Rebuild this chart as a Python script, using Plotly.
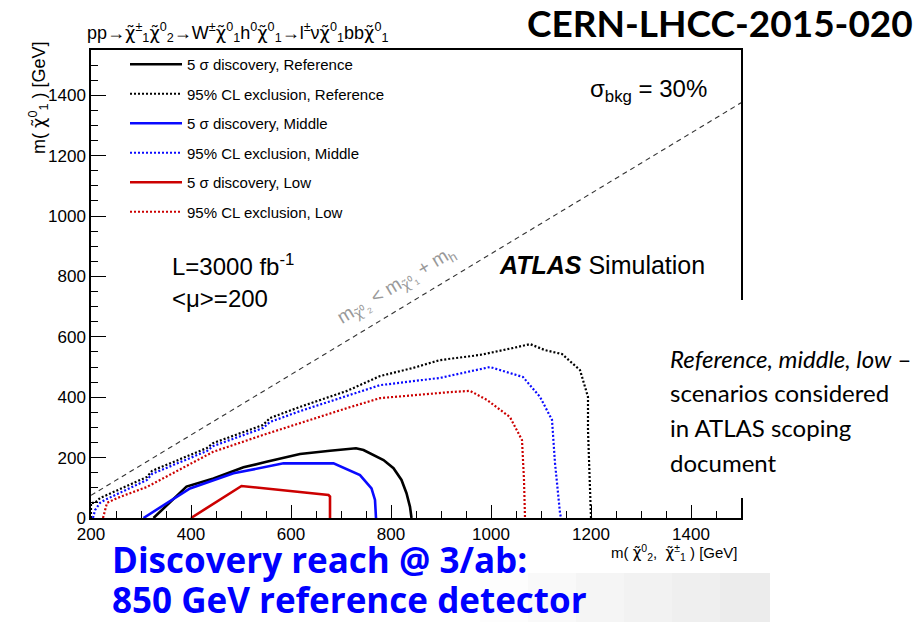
import plotly.graph_objects as go

# ---------------- data (GeV) ----------------
disc_ref_x = [325, 391, 445, 505, 551, 618, 678, 730, 745, 785, 805, 821, 831, 838, 841]
disc_ref_y = [0, 104, 131, 168, 186, 212, 223, 231, 225, 192, 165, 126, 82, 37, 0]

excl_ref_x = [200, 200, 208, 218, 312, 322, 432, 444, 544, 558, 618, 712, 778, 844, 898, 978,
              1044, 1078, 1108, 1142, 1178, 1194, 1194, 1198, 1200]
excl_ref_y = [0, 50, 50, 66, 136, 156, 232, 248, 308, 331, 368, 421, 470, 497, 523, 540,
              563, 576, 556, 543, 490, 401, 291, 126, 0]

disc_mid_x = [305, 351, 398, 485, 585, 685, 738, 761, 768, 770]
disc_mid_y = [0, 49, 98, 148, 181, 181, 142, 98, 60, 0]

excl_mid_x = [204, 208, 218, 228, 312, 322, 432, 444, 544, 558, 618, 712, 778, 898, 998,
              1064, 1098, 1122, 1128, 1138, 1140]
excl_mid_y = [0, 26, 50, 60, 126, 146, 222, 238, 298, 318, 354, 404, 440, 464, 500,
              467, 401, 325, 182, 17, 0]

disc_low_x = [400, 501, 675, 678, 678]
disc_low_y = [0, 106, 76, 71, 0]

excl_low_x = [224, 232, 252, 312, 444, 544, 712, 778, 918, 958, 992, 1038, 1062, 1066, 1068]
excl_low_y = [0, 50, 66, 103, 219, 275, 364, 397, 417, 421, 391, 334, 258, 126, 0]

# kinematic limit m(chi2) = m(chi1) + m(h)
diag_x = [200, 1500]
diag_y = [75, 1375]

x_range = [200, 1500]
y_range = [0, 1550]

names = ["5 σ discovery, Reference", "95% CL exclusion, Reference",
         "5 σ discovery, Middle", "95% CL exclusion, Middle",
         "5 σ discovery, Low", "95% CL exclusion, Low"]

# ---------------- figure ----------------
ROOTF = "Liberation Sans, Arial, sans-serif"
BLACK = "#000000"
BLUE = "#0a0aff"
RED = "#cc0000"
DOT = "2px,2px"

fig = go.Figure()

fig.add_trace(go.Scatter(x=diag_x, y=diag_y, mode="lines", showlegend=False,
                         line=dict(color="#333333", width=1.1, dash="5px,4px"),
                         hoverinfo="skip"))

series = [
    (disc_ref_x, disc_ref_y, BLACK, "solid", 2.6),
    (excl_ref_x, excl_ref_y, BLACK, DOT, 2.2),
    (disc_mid_x, disc_mid_y, BLUE, "solid", 2.6),
    (excl_mid_x, excl_mid_y, BLUE, DOT, 2.2),
    (disc_low_x, disc_low_y, RED, "solid", 2.6),
    (excl_low_x, excl_low_y, RED, DOT, 2.2),
]
for i, (xs, ys, c, d, w) in enumerate(series):
    fig.add_trace(go.Scatter(x=xs, y=ys, mode="lines", name=names[i],
                             legendgroup=f"g{i}",
                             line=dict(color=c, width=w, dash=d)))

# plot area in pixels: left 91, right 741, top 50, bottom 518
W, H = 924, 622
L, R, T, B = 91, 741, 50, 518


def px(xp):
    return (xp - L) / (R - L)


def py(yp):
    return (B - yp) / (B - T)


anns = []


def ann(text, xpix, ypix, size, family=ROOTF, color="black", xanchor="left",
        yanchor="middle", angle=0):
    anns.append(dict(text=text, x=px(xpix), y=py(ypix), xref="paper", yref="paper",
                     xanchor=xanchor, yanchor=yanchor, showarrow=False,
                     textangle=angle, font=dict(size=size, family=family, color=color)))


chi = "<span style=\"font-family:'DejaVu Sans'\">χ̃</span>"
title = (f"pp→{chi}<sup>±</sup><sub>1</sub>{chi}<sup>0</sup><sub>2</sub>→W<sup>±</sup>"
         f"{chi}<sup>0</sup><sub>1</sub>h<sup>0</sup>{chi}<sup>0</sup><sub>1</sub>→l<sup>±</sup>ν"
         f"{chi}<sup>0</sup><sub>1</sub>bb{chi}<sup>0</sup><sub>1</sub>")
ann(title, 85, 33, 18)
ann("<b>CERN-LHCC-2015-020</b>", 915, 23, 37, family="Lato", xanchor="right")
ann("σ<sub>bkg</sub> = 30%", 588, 90, 24)
ann("L=3000 fb<sup>-1</sup>", 170, 265, 24)
ann("&lt;μ&gt;=200", 170, 298, 24)
ann("<b><i>ATLAS</i></b> Simulation", 497, 265, 25)
ann(f"m<sub>{chi}⁰₂</sub> &lt; m<sub>{chi}⁰₁</sub> + m<sub>h</sub>", 396, 286, 19,
    color="#999999", xanchor="center", angle=-31)
ann(f"m( {chi}<sup>0</sup><sub>1</sub> ) [GeV]", 38, 40, 18, xanchor="center",
    yanchor="top", angle=-90)
ann(f"m( {chi}<sup>0</sup><sub>2</sub>,  {chi}<sup>±</sup><sub>1</sub> ) [GeV]", 740, 552, 15,
    xanchor="right")

RTF = "Lato, sans-serif"
ann("<i>Reference, middle, low</i> –", 668, 358, 24, family=RTF)
ann("scenarios considered", 668, 392, 24, family=RTF)
ann("in ATLAS scoping", 668, 427, 24, family=RTF)
ann("document", 668, 462, 24, family=RTF)

BF = "Open Sans, sans-serif"
ann("<b>Discovery reach @ 3/ab:</b>", 110, 559, 35, family=BF, color="#0000ff")
ann("<b>850 GeV reference detector</b>", 110, 599, 35, family=BF, color="#0000ff")

shapes = []
# white panel behind the right-hand text (hides the frame border there)
shapes.append(dict(type="rect", xref="paper", yref="paper", x0=px(660), x1=px(924),
                   y0=py(498), y1=py(300), fillcolor="white", line=dict(width=0),
                   layer="above"))
# light grey gradient band at the bottom
greys = ["#fdfdfd", "#f9f9f9", "#f5f5f5", "#f2f2f2", "#efefef", "#ececec"]
x_edges = [480, 528, 576, 624, 672, 720, 770]
for i, g in enumerate(greys):
    shapes.append(dict(type="rect", xref="paper", yref="paper", x0=px(x_edges[i]),
                       x1=px(x_edges[i + 1]), y0=py(622), y1=py(573), fillcolor=g,
                       line=dict(width=0), layer="below"))

fig.update_layout(
    width=W, height=H,
    margin=dict(l=L, r=W - R, t=T, b=H - B, pad=0),
    paper_bgcolor="white", plot_bgcolor="white",
    font=dict(family=ROOTF, color="black"),
    showlegend=True,
    legend=dict(x=px(125), y=py(48), xanchor="left", yanchor="top",
                bgcolor="rgba(0,0,0,0)", borderwidth=0,
                font=dict(size=15, family=ROOTF),
                traceorder="grouped", tracegroupgap=7, itemwidth=52),
    annotations=anns,
    shapes=shapes,
)

fig.update_xaxes(range=x_range, showgrid=False, zeroline=False,
                 showline=True, linecolor="black", linewidth=1.5, mirror=True,
                 ticks="inside", ticklen=13, tickcolor="black", tickwidth=1.2,
                 tick0=0, dtick=200, tickfont=dict(size=17, family=ROOTF),
                 minor=dict(ticks="inside", ticklen=7, dtick=50, tickcolor="black",
                            tickwidth=1.2, showgrid=False))
fig.update_yaxes(range=y_range, showgrid=False, zeroline=False,
                 showline=True, linecolor="black", linewidth=1.5, mirror=True,
                 ticks="inside", ticklen=15, tickcolor="black", tickwidth=1.2,
                 tick0=0, dtick=200, tickfont=dict(size=17, family=ROOTF),
                 minor=dict(ticks="inside", ticklen=7, dtick=50, tickcolor="black",
                            tickwidth=1.2, showgrid=False))

fig.write_html("out.html")
